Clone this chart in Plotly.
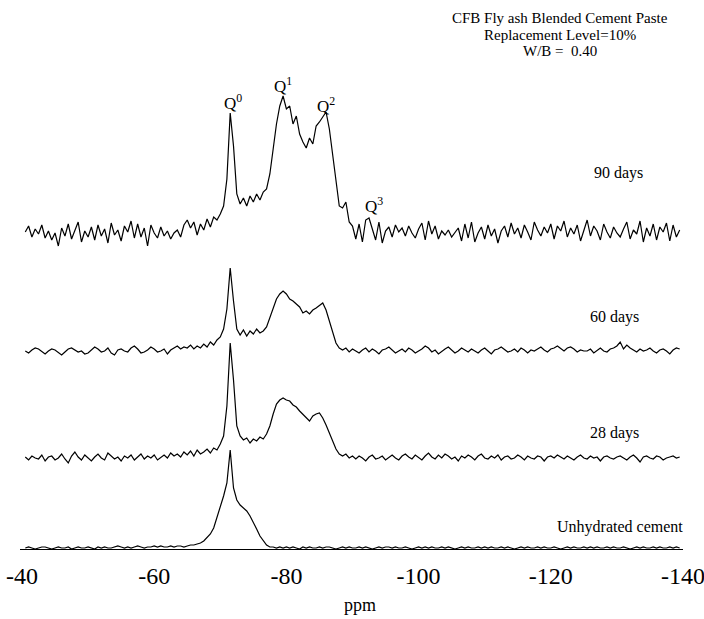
import plotly.graph_objects as go

# chemical shift grid (ppm), 0.5 ppm step from -40.5 to -139.5
ppm = [-40.5 - 0.5 * i for i in range(199)]

# intensities (arbitrary units), relative to each baseline
d90 = [
    2, 8, -3, 5, 0, 9, -4, 3, -6, 1,
    -12, 6, -2, 10, -5, 4, 12, -8, 3, -3,
    7, -6, 9, -2, 5, -9, 11, -1, 4, -7,
    8, 2, 13, -4, 10, -3, 6, -12, 9, 1,
    -4, 7, -2, 3, -5, 1, 4, -3, 9, 14,
    6, 12, -1, 10, 4, 15, 7, 17, 14, 20,
    28, 55, 121, 88, 40, 30, 36, 28, 38, 32,
    40, 34, 42, 45, 60, 85, 110, 128, 138, 125,
    128, 110, 118, 100, 92, 86, 96, 90, 108, 112,
    117, 122, 105, 80, 55, 28, 26, 32, 12, 8,
    -5, 10, -8, 14, 16, 6, -6, 12, -9, 3,
    7, -3, 9, 2, 6, -2, 8, 1, -4, 5,
    11, -6, 13, 0, 8, -5, 3, -1, 4, -3,
    2, 6, -7, 10, -4, 12, -8, 1, 7, -5,
    9, -2, 5, -9, 3, 8, -3, 11, 0, 6,
    -4, 9, 2, -6, 12, 4, -2, 7, 1, 10,
    -5, 8, 3, 13, -3, 6, 0, 9, -7, 4,
    14, -2, 8, 3, -6, 10, 2, -4, 7, 1,
    -3, 5, 12, -5, 4, 0, 13, -8, 6, -2,
    10, -6, 7, 2, 11, -7, 9, -3, 4,
]
d60 = [
    0, -2, 1, 3, 2, -1, -3, 0, 2, 1,
    -2, -4, -1, 2, 3, 1, -1, 0, -3, -2,
    1, 4, 2, -1, 0, 3, -2, -4, 1, 2,
    0, -1, 3, 5, 2, -2, -1, 1, 4, 2,
    -1, 0, 2, -3, 1, 3, 5, 2, 4, 3,
    6, 2, 5, 3, 7, 4, 9, 6, 11, 14,
    22, 42, 83, 50, 22, 16, 21, 15, 20, 17,
    22, 18, 20, 24, 33, 43, 52, 57, 60, 57,
    52, 50, 47, 44, 38, 40, 37, 41, 43, 46,
    48, 41, 30, 18, 8, 3, 1, 3, -1, 2,
    0, -2, 1, 3, -1, 2, 0, -3, 1, 2,
    4, 1, -2, 0, 2, -1, 3, 1, -2, 0,
    2, 5, 3, -1, 1, -3, 0, 2, 4, 1,
    -2, 0, 3, 1, -1, 2, 0, -2, 1, 3,
    0, -3, 1, 2, 4, 1, -1, 0, 2, -1,
    3, 1, -2, 1, 0, 2, 4, 1, -1, 2,
    3, 5, 2, 0, 3, 4, 2, -1, 1, 0,
    0, 2, -2, 1, 3, 0, -1, 2, 3, 5,
    9, 2, 6, 3, 1, -1, 2, 0, 1, 3,
    0, -2, 1, 2, 0, -3, 1, 3, 2,
]
d28 = [
    1, -2, 2, 0, -1, 3, -3, 1, 2, -2,
    0, 4, -1, -5, 2, 6, 1, -2, 3, 0,
    -3, 1, 4, 0, -2, 5, 2, -1, 1, -3,
    2, 0, 3, -2, 1, 4, -1, 2, 0, 3,
    -2, 1, 3, 0, 5, 2, 4, 1, 6, 3,
    7, 2, 8, 4, 6, 9, 5, 10, 8, 14,
    22, 52, 115, 78, 32, 22, 18, 20, 15, 19,
    17, 21, 19, 24, 32, 44, 54, 58, 60, 58,
    57, 53, 51, 47, 44, 40, 37, 42, 44, 45,
    40, 33, 25, 16, 9, 4, 2, 4, 0, 2,
    -1, 2, 0, -3, 1, 3, -1, 0, 2, -2,
    1, 3, 0, -2, 2, 4, 1, -1, 3, 0,
    -2, 2, 5, 1, -1, 3, 0, 4, 2, -1,
    1, -3, 2, 0, 3, 1, -2, 2, 4, 0,
    -1, 2, 0, 3, -2, 1, 2, -1, 0, 3,
    1, -2, 2, 0, -1, 2, 1, -3, 1, 2,
    0, 3, 1, -1, 2, 0, -2, 1, 3, 0,
    -1, 2, 0, 1, -3, 1, 2, 0, -1, 1,
    2, 0, -2, 1, 3, 0, -4, 1, 2, 0,
    -1, 2, 1, -2, 0, 1, 2, 0, 1,
]
d0 = [
    0, 1, 0, -1, 0, 1, 1, 0, -1, 0,
    1, 0, 0, 1, -1, 0, 1, 0, 0, 1,
    0, -1, 1, 0, 1, 0, 0, 1, 2, 1,
    0, 1, 0, 1, 2, 1, 0, 1, 1, 2,
    1, 2, 1, 1, 2, 1, 2, 2, 1, 2,
    3, 3, 4, 5, 7, 10, 14, 20, 30, 40,
    52, 65, 98, 60, 48, 43, 40, 37, 32, 26,
    19, 12, 7, 3, 1, 1, 0, 1, 0, 1,
    0, 1, 0, -1, 1, 0, 1, 0, 0, 1,
    0, 1, 1, 0, -1, 0, 1, 0, 1, 0,
    0, 1, 0, 1, 0, -1, 0, 1, 0, 1,
    1, 0, 1, 0, 0, 1, 0, -1, 0, 1,
    0, 1, 0, 1, 0, 0, 1, 0, 1, 0,
    -1, 0, 1, 0, 1, 0, 0, 1, 0, 1,
    0, 1, 0, 0, 1, 0, 1, 0, -1, 0,
    1, 0, 1, 0, 0, 1, 0, 1, 0, 0,
    1, 0, -1, 0, 1, 0, 1, 0, 0, 1,
    0, 1, 0, 1, 0, 0, 1, 0, 1, 0,
    0, 1, 0, -1, 0, 1, 0, 1, 0, 0,
    1, 0, 1, 0, 0, 1, 0, 1, 0,
]

series = [("90 days", d90), ("60 days", d60), ("28 days", d28), ("Unhydrated cement", d0)]
offsets = [315, 198, 91, 1]          # vertical stacking of the spectra
tick_vals = [-40, -60, -80, -100, -120, -140]
tick_text = ["-40", "-60", "-80", "-100", "-120", "-140"]

FONT = "Liberation Serif, Times New Roman, serif"

fig = go.Figure()
for (name, vals), off in zip(series, offsets):
    fig.add_trace(go.Scatter(
        x=ppm, y=[v + off for v in vals], mode="lines", name=name,
        line=dict(color="black", width=1.2), showlegend=False,
        cliponaxis=False, hoverinfo="skip",
    ))

ann = []
# spectrum labels
for text, x, y in [("90 days", -130.2, 376), ("60 days", -129.7, 232),
                   ("28 days", -129.7, 116), ("Unhydrated cement", -130.5, 22)]:
    ann.append(dict(x=x, y=y, text=text, xref="x", yref="y", showarrow=False,
                    font=dict(family=FONT, size=16, color="black")))
# peak labels
for text, x, y in [("Q<sup>0</sup>", -71.9, 447), ("Q<sup>1</sup>", -79.5, 464),
                   ("Q<sup>2</sup>", -86.0, 444), ("Q<sup>3</sup>", -93.3, 344)]:
    ann.append(dict(x=x, y=y, text=text, xref="x", yref="y", showarrow=False,
                    font=dict(family=FONT, size=17, color="black")))
# title block
for text, y in [("CFB Fly ash Blended Cement Paste", 531),
                ("Replacement Level=10%", 514),
                ("W/B =  0.40", 498)]:
    ann.append(dict(x=-121.4, y=y, text=text, xref="x", yref="y", showarrow=False,
                    font=dict(family=FONT, size=15, color="black")))
# axis title (paper coordinates, below the axis)
ann.append(dict(x=0.513, y=-0.102, text="ppm", xref="paper", yref="paper",
                showarrow=False, xanchor="center", yanchor="middle",
                font=dict(family=FONT, size=18, color="black")))

fig.update_layout(
    width=704, height=619,
    margin=dict(l=20, r=21, t=0, b=70, autoexpand=False),
    paper_bgcolor="white", plot_bgcolor="white",
    annotations=ann,
    hovermode=False,
    xaxis=dict(range=[-39.7, -140.0], showgrid=False, zeroline=False,
               automargin=False, ticklabeloverflow="allow",
               showline=True, linecolor="black", linewidth=1,
               tickvals=tick_vals, ticktext=tick_text,
               ticks="outside", ticklen=5, tickcolor="rgba(0,0,0,0)",
               tickfont=dict(family=FONT, size=24, color="black")),
    yaxis=dict(range=[0, 549], visible=False, showgrid=False, zeroline=False,
               automargin=False),
)

fig.write_html(
    "out.html",
    config={"displayModeBar": False, "staticPlot": True},
    post_script="document.body.style.margin='0';document.body.style.overflow='hidden';",
)
